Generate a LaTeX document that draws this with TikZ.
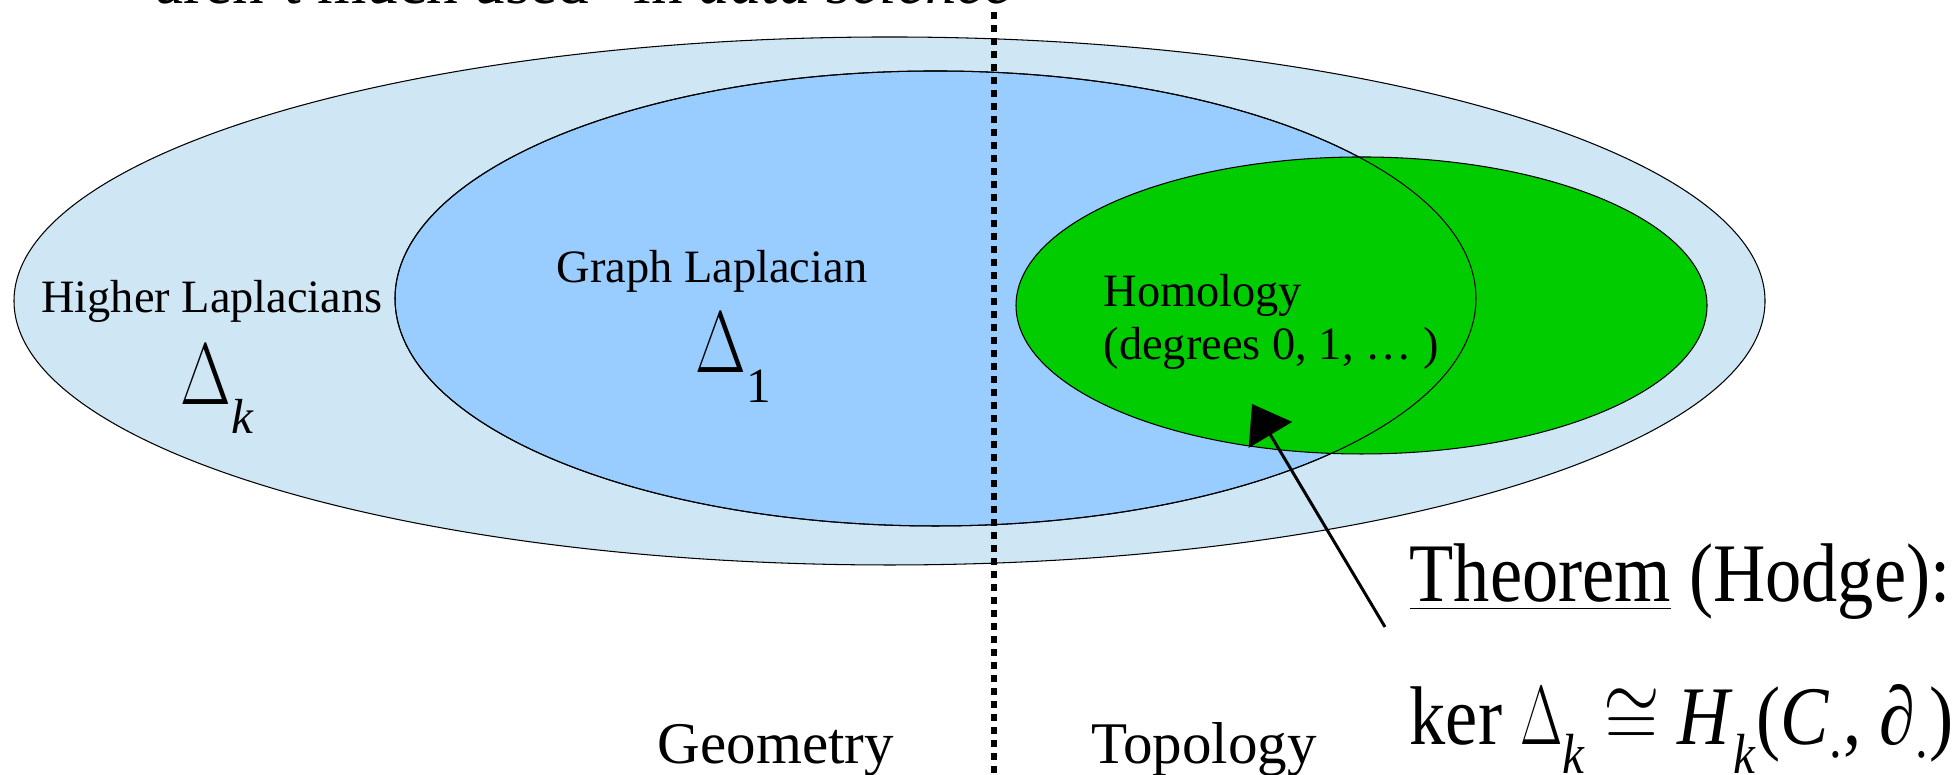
\documentclass[tikz,border=0pt]{standalone}
\usepackage{fontspec}
\setmainfont{Liberation Serif}
\usepackage{graphicx}
\usepackage{tikz}
\usetikzlibrary{positioning,arrows.meta}
\definecolor{outerblue}{HTML}{CFE6F4}
\definecolor{graphblue}{HTML}{99CCFF}
\definecolor{homgreen}{HTML}{00CC00}
\newcommand{\lowsub}[2]{\raisebox{-#1}{\fontsize{14}{16}\selectfont #2}}
\newcommand{\Dlt}{\scalebox{0.75}[1]{$\Delta$}}
\newcommand{\tall}[1]{\scalebox{1}[1.15]{#1}}

\begin{document}
\begin{tikzpicture}[
    lbl/.style={font=\fontsize{13.2}{16}\selectfont, inner sep=0},
    bigop/.style={font=\fontsize{25}{30}\selectfont, inner sep=0},
    side/.style={font=\fontsize{16.8}{20}\selectfont, inner sep=0},
    thm/.style={font=\fontsize{20.6}{25}\selectfont, inner sep=0}]
  \useasboundingbox (0,0) rectangle (19.57,7.75);
  \clip (0,0) rectangle (19.57,7.75);
  % nested sets
  \filldraw[fill=outerblue, draw=black, line width=0.3pt] (8.895,4.74) ellipse [x radius=8.755, y radius=2.64];
  \filldraw[fill=graphblue, draw=black, line width=0.3pt] (9.355,4.765) ellipse [x radius=5.405, y radius=2.275];
  \filldraw[fill=homgreen, draw=black, line width=0.3pt] (13.615,4.695) ellipse [x radius=3.455, y radius=1.485];
  % outline of the graph Laplacian set over the green one
  \draw[line width=0.3pt] (9.355,4.765) ellipse [x radius=5.405, y radius=2.275];
  % geometry | topology divide
  \draw[line width=1.8pt, dash pattern=on 0.075cm off 0.055cm] (9.94,7.63) -- (9.94,0);
  % clipped heading
  \node[font=\fontsize{18}{22}\selectfont, inner sep=0, anchor=base] (head) at (5.84,7.71) {aren't much used” in \textit{data science}};
  % labels
  \node[lbl, anchor=base] (higher) at (2.12,4.62) {Higher Laplacians};
  \node[bigop, anchor=base west] (deltak) at (1.80,3.70) {\Dlt\lowsub{8pt}{\textit{k}}};
  \node[lbl, anchor=base] (graph) at (7.12,4.92) {Graph Laplacian};
  \node[bigop, anchor=base west] (deltaone) at (6.95,4.02) {\Dlt\lowsub{8.5pt}{1}};
  \node[lbl, anchor=base west] (homol) at (11.03,4.68) {Homology};
  \node[lbl, anchor=base west] (degs) at (11.03,4.15) {(degrees 0, 1, … )};
  \node[side, anchor=base] (geom) at (7.76,0.11) {Geometry};
  \node[side, anchor=base] (topo) at (12.04,0.11) {Topology};
  \node[thm, anchor=base west] (hodge) at (14.09,1.73) {\tall{\underline{Theorem} (Hodge):}};
  \node[thm, anchor=base west] (kerl) at (14.09,0.30) {\tall{ker \Dlt\lowsub{7pt}{\textit{k}} $\cong$ \textit{H}\lowsub{7pt}{\textit{k}}(\textit{C}\textsubscript{.}, ∂\textsubscript{.})}};
  % arrow into homology
  \coordinate (tail) at (13.85,1.48);
  \coordinate (tip) at (12.52,3.71);
  \draw[line width=0.85pt, -{Triangle[length=0.36cm, width=0.5cm]}] (tail) -- (tip);
\end{tikzpicture}
\end{document}
